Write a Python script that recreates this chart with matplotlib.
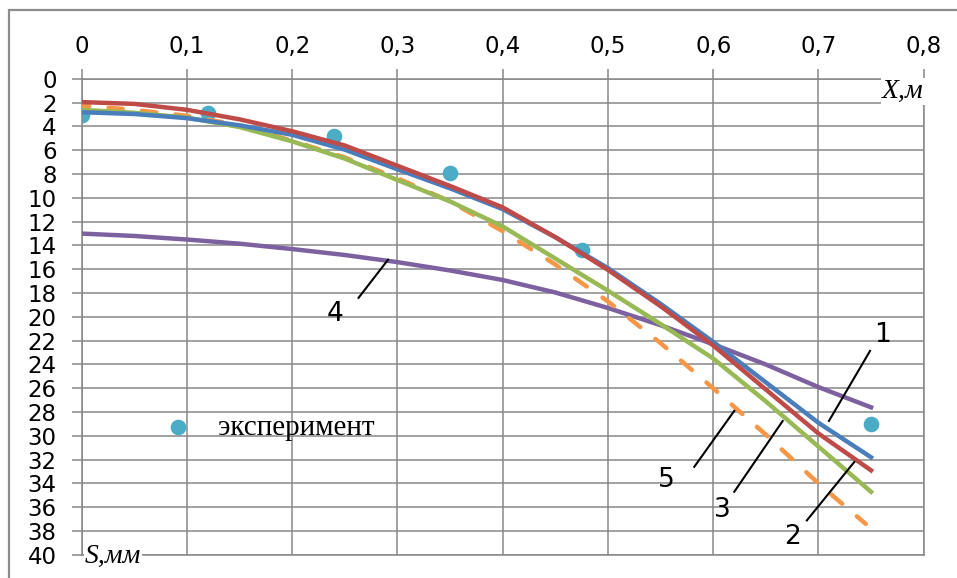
import numpy as np
import matplotlib.pyplot as plt
from matplotlib.font_manager import FontProperties

# x, m
x = [0, 0.05, 0.1, 0.15, 0.2, 0.25, 0.3, 0.35, 0.4, 0.45, 0.5, 0.55, 0.6, 0.65, 0.7, 0.75]
x5 = [0, 0.05, 0.1, 0.15, 0.2, 0.25, 0.3, 0.35, 0.4, 0.45, 0.5, 0.55, 0.6, 0.65, 0.7, 0.745]

# S, mm
s1 = [2.8, 2.95, 3.3, 3.9, 4.7, 5.95, 7.6, 9.2, 10.95, 13.3, 15.9, 18.9, 22.1, 25.5, 28.9, 31.8]
s2 = [2.6, 2.85, 3.25, 4.05, 5.25, 6.7, 8.5, 10.3, 12.4, 15.1, 17.8, 20.6, 23.5, 27.1, 30.9, 34.7]
s3 = [1.95, 2.1, 2.6, 3.4, 4.4, 5.6, 7.3, 9.0, 10.8, 13.3, 16.05, 19.1, 22.4, 26.1, 29.8, 32.9]
s4 = [13.0, 13.2, 13.5, 13.85, 14.3, 14.8, 15.4, 16.1, 16.9, 17.95, 19.25, 20.7, 22.3, 24.0, 25.9, 27.6]
s5 = [2.25, 2.6, 3.1, 3.9, 5.2, 6.6, 8.35, 10.3, 12.8, 15.6, 18.7, 22.2, 26.0, 29.9, 34.0, 37.4]

x_exp = [0, 0.12, 0.24, 0.35, 0.475, 0.75]
s_exp = [3.0, 2.9, 4.8, 7.9, 14.4, 29.0]

xticks = [0, 0.1, 0.2, 0.3, 0.4, 0.5, 0.6, 0.7, 0.8]
xlabels = ["0", "0,1", "0,2", "0,3", "0,4", "0,5", "0,6", "0,7", "0,8"]
yticks = list(range(0, 41, 2))

# curve numbers: label, text position, leader line (from, to)
labels = ["1", "2", "3", "4", "5"]
label_pos = [(0.761, 21.5), (0.675, 38.5), (0.609, 36.2), (0.241, 19.75), (0.555, 33.7)]
leaders = [((0.749, 22.86), (0.710, 28.74)),
           ((0.689, 37.1), (0.734, 32.2)),
           ((0.620, 34.7), (0.666, 28.75)),
           ((0.263, 18.4), (0.291, 15.2)),
           ((0.582, 32.6), (0.620, 27.9))]

grid_c = '#878787'

fig = plt.figure(figsize=(9.57, 5.78), dpi=100)
ax = fig.add_axes([0.0854, 0.04, 0.8798, 0.8235])

exp = ax.scatter(x_exp, s_exp, s=105, color='#4BACC6', zorder=2, label='эксперимент')
ax.plot(x, s4, color='#7D60A0', lw=3.2, zorder=3)
ax.plot(x5, s5, color='#F79646', lw=3.2, linestyle=(1.5, (3.2, 4.35)),
        dash_capstyle='round', zorder=3)
ax.plot(x, s2, color='#98B954', lw=3.2, zorder=3)
ax.plot(x, s1, color='#4A7EBB', lw=3.2, zorder=3)
ax.plot(x, s3, color='#BE4B48', lw=3.2, zorder=3)

for lab, (tx, ty), (p0, p1) in zip(labels, label_pos, leaders):
    ax.plot([p0[0], p1[0]], [p0[1], p1[1]], color='black', lw=1.5, zorder=4)
    ax.text(tx, ty, lab, fontsize=19, ha='center', va='center', zorder=4)

ax.set_xlim(0, 0.8)
ax.set_ylim(40, 0)
ax.xaxis.tick_top()
ax.set_xticks(xticks)
ax.set_xticklabels(xlabels)
ax.set_yticks(yticks)
ax.tick_params(axis='both', length=7, width=1.1, color=grid_c, labelsize=16.5)
ax.tick_params(axis='x', pad=8)
ax.tick_params(axis='y', pad=11)
ax.grid(True, color=grid_c, lw=1.1)
ax.set_axisbelow(True)
for sp in ax.spines.values():
    sp.set_color(grid_c)
    sp.set_linewidth(1.1)

serif_it = dict(family='Liberation Serif', style='italic', fontsize=20)
ax.text(0.8, 0.0, 'X,м', ha='right', va='top', zorder=5,
        bbox=dict(facecolor='white', edgecolor='none', pad=0.5), **serif_it)
ax.text(0.003, 40.1, 'S,мм', ha='left', va='center', zorder=5,
        bbox=dict(facecolor='white', edgecolor='none', pad=0.5), **serif_it)

ax.legend(handles=[exp], loc='center left', bbox_to_anchor=(0.0773, 29.3),
          bbox_transform=ax.transData, frameon=False, borderpad=0, borderaxespad=0,
          handlelength=1, handletextpad=0.9,
          prop=FontProperties(family='Liberation Serif', size=21))

fig.add_artist(plt.Rectangle((9 / 957, -0.5), 2, 0.9827 + 0.5, transform=fig.transFigure,
                             fill=False, ec='#8c8c8c', lw=1.6))

fig.savefig("out.png", dpi=100)
